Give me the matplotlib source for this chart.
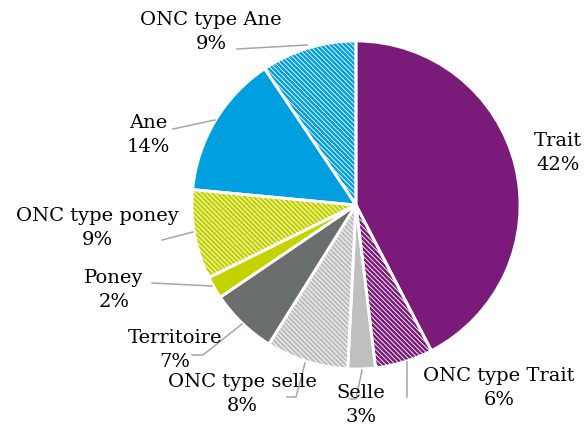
import numpy as np
import matplotlib
matplotlib.use("Agg")
import matplotlib.pyplot as plt

# categories, clockwise from 12 o'clock
labels = ["Trait", "ONC type Trait", "Selle", "ONC type selle", "Territoire",
          "Poney", "ONC type poney", "Ane", "ONC type Ane"]
values = [42.4, 5.7, 2.7, 8.1, 6.6, 2.2, 8.8, 14.1, 9.4]
colors = ["#7A1B79", "#7A1B79", "#BFBFBF", "#BFBFBF", "#6B6E6F",
          "#C4D300", "#C4D300", "#009FE0", "#009FE0"]
hatched = [False, True, False, True, False, False, True, False, True]

# label block centres and leader lines, in pixels from top-left
label_pos = [(558, 153), (499, 388), (361, 405), (242, 394), (175, 350),
             (114, 290), (97, 228), (148, 135), (211, 32)]
leaders = [None,
           [(407, 362), (407, 397)],
           [(362, 370), (356, 399), (350, 399)],
           [(305, 363), (296, 397), (287, 397)],
           [(242, 324), (203, 355), (192, 355)],
           [(212, 286), (152, 283)],
           [(193, 232), (162, 240)],
           [(215, 120), (173, 129)],
           [(307, 45), (237, 49)]]

W, H = 586, 430
plt.rcParams["font.family"] = ["DejaVu Serif"]
plt.rcParams["hatch.linewidth"] = 1.8

fig = plt.figure(figsize=(W / 100, H / 100), dpi=100)
ax = fig.add_axes([0, 0, 1, 1])

cx, cy, r = 356, H - 205, 164

# fills (hatch colour comes from edgecolor)
wedges, _ = ax.pie(values, startangle=90, counterclock=False,
                   center=(cx, cy), radius=r, frame=True)
for w, c, h in zip(wedges, colors, hatched):
    w.set_linewidth(0)
    w.set_edgecolor(c)
    if h:
        w.set_facecolor("white")
        w.set_hatch("\\" * 7)
    else:
        w.set_facecolor(c)

# white separators on top
ax.pie(values, startangle=90, counterclock=False, center=(cx, cy), radius=r,
       frame=True, wedgeprops=dict(facecolor="none", edgecolor="white", linewidth=2))
ax.set_xlim(0, W)
ax.set_ylim(0, H)
ax.axis("off")

pct = [f"{round(v)}%" for v in values]
for lab, p, (x, y), ld in zip(labels, pct, label_pos, leaders):
    ax.text(x, H - y, f"{lab}\n{p}", ha="center", va="center",
            multialignment="center", fontsize=14, color="black",
            linespacing=1.45)
    if ld:
        xs = [q[0] for q in ld]
        ys = [H - q[1] for q in ld]
        ax.plot(xs, ys, color="#A6A6A6", lw=1.1)

fig.savefig("out.png", dpi=100)
